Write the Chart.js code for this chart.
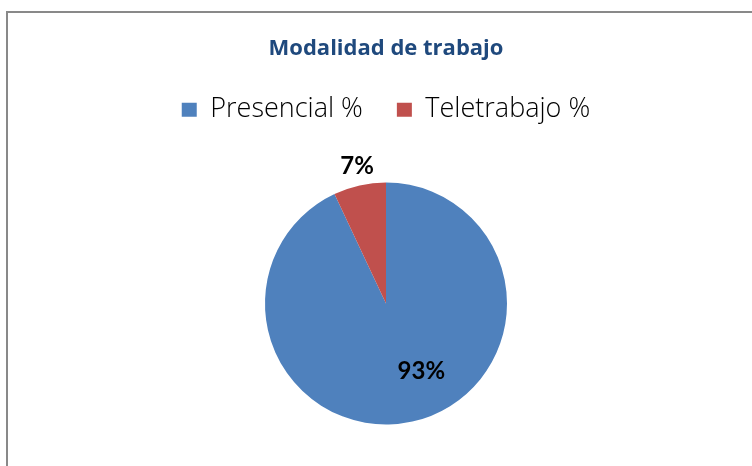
<!DOCTYPE html>
<html>
<head>
<meta charset="utf-8">
<script src="https://cdn.jsdelivr.net/npm/chart.js@4"></script>
<style>
  html, body { margin: 0; padding: 0; background: #ffffff; overflow: hidden; }
  #wrap { position: relative; width: 752px; height: 466px; }
  #frame { position: absolute; left: 6px; top: 11px; width: 760px; height: 470px;
           border-left: 2px solid #898989; border-top: 2px solid #898989; box-sizing: border-box; }
  canvas { position: absolute; left: 0; top: 0; }
</style>
</head>
<body>
<div id="wrap">
  <div id="frame"></div>
  <canvas id="c" width="752" height="466"></canvas>
</div>
<script>
const titleText = 'Modalidad de trabajo';
const categories = ['Presencial %', 'Teletrabajo %'];
const values = [93, 7];
const colors = ['#4F81BD', '#C0504D'];

const labelPlacement = [
  { factor: 0.62, angleOffsetDeg: -15.5 },
  { factor: 1.17, angleOffsetDeg: 0.8 }
];

const pctLabels = {
  id: 'pctLabels',
  afterDatasetsDraw(chart, args, opts) {
    const ctx = chart.ctx;
    const meta = chart.getDatasetMeta(0);
    const data = chart.data.datasets[0].data;
    const total = data.reduce((a, b) => a + b, 0);
    ctx.save();
    ctx.font = opts.font;
    ctx.fillStyle = opts.color;
    ctx.textAlign = 'center';
    ctx.textBaseline = 'middle';
    meta.data.forEach((arc, i) => {
      const p = opts.placement[i];
      const mid = (arc.startAngle + arc.endAngle) / 2 + p.angleOffsetDeg * Math.PI / 180;
      const r = arc.outerRadius * p.factor;
      const x = arc.x + Math.cos(mid) * r;
      const y = arc.y + Math.sin(mid) * r + 1.5;
      ctx.fillText(Math.round(data[i] / total * 100) + '%', x, y);
    });
    ctx.restore();
  }
};

new Chart(document.getElementById('c'), {
  type: 'pie',
  data: {
    labels: categories,
    datasets: [{
      data: values,
      backgroundColor: colors,
      borderWidth: 0,
      hoverOffset: 0
    }]
  },
  plugins: [pctLabels],
  options: {
    responsive: false,
    animation: false,
    events: [],
    layout: { padding: { left: 20, right: 0, top: 0, bottom: 41.5 } },
    plugins: {
      title: {
        display: true,
        text: titleText,
        color: '#1F497D',
        font: { family: 'Open Sans', size: 22, weight: 'bold', lineHeight: 1.2 },
        padding: { top: 35.8, bottom: 0 }
      },
      legend: {
        display: true,
        position: 'top',
        labels: {
          boxWidth: 15,
          boxHeight: 14,
          padding: 34,
          color: '#000000',
          font: { family: 'Open Sans', size: 27, weight: 300 }
        }
      },
      subtitle: {
        display: true,
        text: '',
        weight: 500,
        font: { size: 10, lineHeight: 1.2 },
        padding: { top: 37.3, bottom: 0 }
      },
      tooltip: { enabled: false },
      pctLabels: {
        font: 'bold 24px Lato',
        color: '#000000',
        placement: labelPlacement
      }
    }
  }
});
</script>
</body>
</html>
